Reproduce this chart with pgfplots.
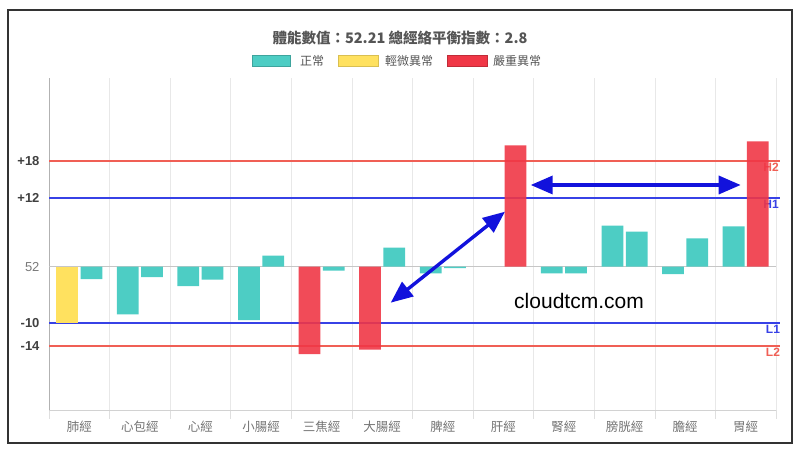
\documentclass[border=0pt]{standalone}
\usepackage{pgfplots}
\pgfplotsset{compat=1.18}
\usepackage{fontspec}
\setmainfont{Liberation Sans}
\newfontfamily\cjk{Noto Sans CJK TC}
\usetikzlibrary{arrows.meta}

\definecolor{okteal}{RGB}{77,205,196}
\definecolor{mildyel}{RGB}{255,225,95}
\definecolor{badred}{RGB}{240,55,70}
\definecolor{refred}{RGB}{240,95,85}
\definecolor{refblue}{RGB}{55,65,230}
\definecolor{arrblue}{RGB}{18,18,220}
\definecolor{txtgray}{RGB}{85,85,85}

\begin{document}
\begin{tikzpicture}[x=1pt,y=1pt]
\useasboundingbox (0,0) rectangle (800,454);
\draw[line width=2.4pt, black!80] (8,11) rectangle (792,444);

% title and legend
\node[font=\cjk\bfseries\fontsize{14.5}{16}\selectfont, text=txtgray] at (400,416) {體能數值：52.21 總經絡平衡指數：2.8};
\begin{scope}[font=\cjk\fontsize{12}{14}\selectfont, text=txtgray]
  \filldraw[fill=okteal, draw=okteal!80!black, line width=0.8pt] (252,388) rectangle (290,399);
  \node[anchor=west, inner sep=0pt] at (300,393.5) {正常};
  \filldraw[fill=mildyel, draw=mildyel!85!black, line width=0.8pt] (338,388) rectangle (378,399);
  \node[anchor=west, inner sep=0pt] at (385,393.5) {輕微異常};
  \filldraw[fill=badred, draw=badred!80!black, line width=0.8pt] (447,388) rectangle (487,399);
  \node[anchor=west, inner sep=0pt] at (493,393.5) {嚴重異常};
\end{scope}

\begin{axis}[
    at={(49pt,44pt)}, anchor=south west,
    scale only axis, width=727pt, height=332pt,
    xmin=-0.5, xmax=11.5,
    ymin=-24.92, ymax=32.82,
    clip=false,
    axis x line*=bottom, axis y line*=left,
    x axis line style={draw=gray!35, -},
    y axis line style={draw=gray!60, -},
    xtick={0,...,11},
    xticklabels={肺經,心包經,心經,小腸經,三焦經,大腸經,脾經,肝經,腎經,膀胱經,膽經,胃經},
    xticklabel style={font=\cjk\fontsize{12.5}{14}\selectfont, text=gray!90!black, yshift=-7pt},
    minor xtick={-0.5,0.5,...,11.5},
    xminorgrids,
    minor grid style={gray!18, line width=0.6pt},
    minor tick length=9pt, major tick length=0pt,
    tick align=outside,
    minor tick style={gray!25, line width=0.6pt},
    ytick={-13.8,-9.85,0,12,18.45},
    yticklabels={\textbf{-14},\textbf{-10},{\color{gray!95!black}52},\textbf{+12},\textbf{+18}},
    yticklabel style={font=\fontsize{13}{15}\selectfont, text=black!75, xshift=-6pt},
]
% baseline 52
\addplot[gray!45, line width=0.6pt] coordinates {(-0.5,0) (11.5,0)};
% reference lines
\addplot[refred, line width=1.8pt] coordinates {(-0.5,18.45) (11.57,18.45)};
\addplot[refblue, line width=1.8pt] coordinates {(-0.5,12) (11.57,12)};
\addplot[refblue, line width=1.8pt] coordinates {(-0.5,-9.85) (11.57,-9.85)};
\addplot[refred, line width=1.8pt] coordinates {(-0.5,-13.8) (11.57,-13.8)};
\node[text=refred, font=\bfseries\fontsize{12}{14}\selectfont] at (axis cs:11.42,17.2) {H2};
\node[text=refblue, font=\bfseries\fontsize{12}{14}\selectfont] at (axis cs:11.42,10.8) {H1};
\node[text=refblue, font=\bfseries\fontsize{12}{14}\selectfont] at (axis cs:11.45,-10.9) {L1};
\node[text=refred, font=\bfseries\fontsize{12}{14}\selectfont] at (axis cs:11.45,-14.9) {L2};

% normal (teal) bars
\addplot[ybar, bar width=21.8pt, bar shift=0pt, fill=okteal, draw=none] coordinates {
 (0.8,-8.28) (1.8,-3.36) (2.8,-9.27) (5.8,-1.16) (7.8,-1.16) (8.8,7.13) (9.8,-1.27) (10.8,7.01)
 (0.2,-2.14) (1.2,-1.8) (2.2,-2.26) (3.2,1.91) (4.2,-0.7) (5.2,3.3) (6.2,-0.25) (8.2,-1.16) (9.2,6.09) (10.2,4.93)
};
% mild (yellow) bars
\addplot[ybar, bar width=21.8pt, bar shift=0pt, fill=mildyel, draw=none] coordinates {
 (-0.2,-9.74)
};
% severe (red) bars
\addplot[ybar, bar width=21.8pt, bar shift=0pt, fill=badred, fill opacity=0.9, draw=none] coordinates {
 (3.8,-15.2) (4.8,-14.4) (7.2,21.1) (11.2,21.8)
};
\end{axis}

% annotations
\draw[arrblue, line width=3.4pt, {Triangle[length=22pt,width=18pt]}-{Triangle[length=22pt,width=18pt]}]
  (390.7,151.3) -- (505,242.3);
\draw[arrblue, line width=3.4pt, {Triangle[length=22pt,width=18pt]}-{Triangle[length=22pt,width=18pt]}]
  (530.7,269) -- (740.7,269);
\node[font=\fontsize{21}{24}\selectfont, text=black] at (579,153) {cloudtcm.com};
\end{tikzpicture}
\end{document}
